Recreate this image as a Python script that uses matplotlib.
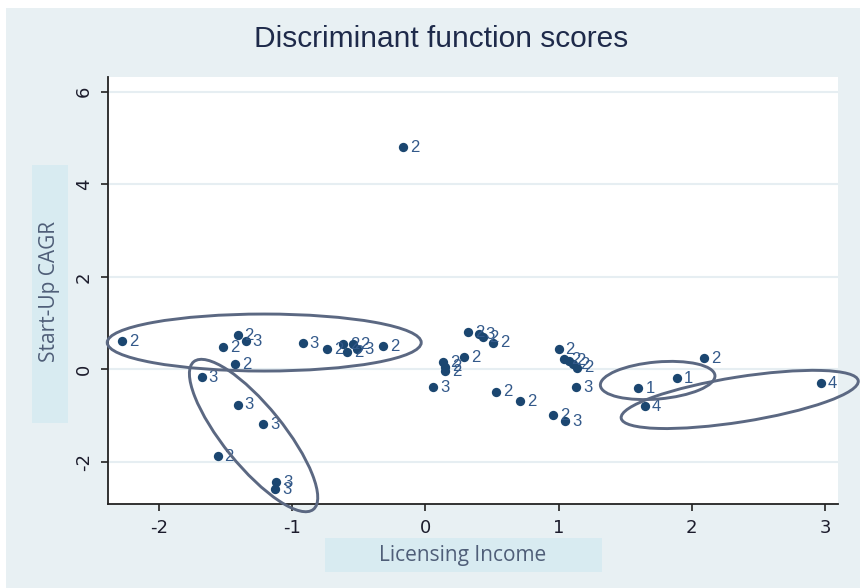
import matplotlib
matplotlib.use("Agg")
import matplotlib.pyplot as plt
from matplotlib.patches import Rectangle, Ellipse
from matplotlib.transforms import ScaledTranslation

# ---- data ----
x_vals = [-2.28, -0.17, -1.41, -1.35, -1.52, -1.43, -1.68, -0.92, -0.74, -0.62,
          -0.59, -0.54, -0.51, -0.32, -1.41, -1.22, -1.56, -1.12, -1.13, 0.32,
          0.40, 0.43, 0.51, 0.13, 0.15, 0.15, 0.29, 0.06, 0.53, 0.71,
          0.96, 1.05, 1.00, 1.04, 1.08, 1.11, 1.14, 1.13, 2.09, 1.89,
          1.60, 1.65, 2.97]
y_vals = [0.61, 4.80, 0.74, 0.61, 0.48, 0.11, -0.17, 0.56, 0.43, 0.54,
          0.37, 0.54, 0.43, 0.50, -0.76, -1.19, -1.88, -2.44, -2.59, 0.80,
          0.76, 0.69, 0.58, 0.15, 0.06, -0.04, 0.26, -0.39, -0.48, -0.69,
          -0.99, -1.12, 0.43, 0.22, 0.19, 0.11, 0.04, -0.39, 0.24, -0.19,
          -0.41, -0.80, -0.30]
groups = ["2", "2", "2", "3", "2", "2", "3", "3", "2", "2",
          "2", "2", "3", "2", "3", "3", "2", "3", "3", "2",
          "3", "2", "2", "2", "2", "2", "2", "3", "2", "2",
          "2", "3", "2", "2", "2", "2", "2", "3", "2", "1",
          "1", "4", "4"]

x_ticks = [-2, -1, 0, 1, 2, 3]
y_ticks = [-2, 0, 2, 4, 6]

# annotation ellipses: center (data), width/height (inches), angle (deg)
ellipse_centers = [(-1.21, 0.58), (-1.29, -1.43), (1.744, -0.24), (2.36, -0.65)]
ellipse_sizes = [(3.14, 0.57), (1.90, 0.60), (1.15, 0.37), (2.40, 0.45)]
ellipse_angles = [0, -51, 5, 9]

title = "Discriminant function scores"
xlabel = "Licensing Income"
ylabel = "Start-Up CAGR"

# ---- style ----
W, H = 860, 588
bg = "#e8f0f3"
boxc = "#d8ebf1"
navy = "#1b4670"
labc = "#33598a"
ellc = "#5b6882"

fig = plt.figure(figsize=(W / 100, H / 100), dpi=100, facecolor="white")
fig.add_artist(Rectangle((6 / W, 0), 1 - 6 / W, 1 - 8 / H, transform=fig.transFigure,
                         facecolor=bg, edgecolor="none", zorder=-10))
# label boxes
fig.add_artist(Rectangle((32 / W, 1 - 423 / H), 36 / W, 258 / H, transform=fig.transFigure,
                         facecolor=boxc, edgecolor="none", zorder=-5))
fig.add_artist(Rectangle((325 / W, 1 - 572 / H), 277 / W, 34 / H, transform=fig.transFigure,
                         facecolor=boxc, edgecolor="none", zorder=-5))

ax = fig.add_axes([108 / W, 1 - 504 / H, 730 / W, 427 / H])
ax.set_facecolor("white")
ax.set_xlim(-2.383, 3.098)
ax.set_ylim(-2.91, 6.32)

for sp in ["top", "right"]:
    ax.spines[sp].set_visible(False)
for sp in ["left", "bottom"]:
    ax.spines[sp].set_color("#222222")
    ax.spines[sp].set_linewidth(1.3)

ax.set_xticks(x_ticks)
ax.set_yticks(y_ticks)
ax.set_xticklabels([str(t) for t in x_ticks])
ax.set_yticklabels([str(t) for t in y_ticks], rotation=90, va="center")
ax.tick_params(axis="both", length=5, width=1.2, color="#222222",
               labelsize=13, labelcolor="#1c1c2c", pad=6)
ax.yaxis.grid(True, color="#e6eef2", linewidth=1.5)
ax.set_axisbelow(True)

ax.scatter(x_vals, y_vals, s=45, color=navy, zorder=3, linewidths=0)
for xv, yv, g in zip(x_vals, y_vals, groups):
    ax.annotate(g, (xv, yv), xytext=(5, 0), textcoords="offset points",
                va="center", ha="left", fontsize=12, color=labc,
                family="Liberation Sans", zorder=4)

for (cx, cy), (w, h), a in zip(ellipse_centers, ellipse_sizes, ellipse_angles):
    e = Ellipse((0, 0), w, h, angle=a, fill=False, edgecolor=ellc, linewidth=2.1,
                transform=fig.dpi_scale_trans + ScaledTranslation(cx, cy, ax.transData),
                clip_on=False, zorder=5)
    ax.add_artist(e)

fig.text(441 / W, 1 - 39 / H, title, ha="center", va="center", fontsize=21.5,
         color="#1e2a4a", family="Liberation Sans")
fig.text(463 / W, 1 - 555 / H, xlabel, ha="center", va="center", fontsize=15,
         color="#4f5e78", family="Open Sans")
fig.text(50 / W, 1 - 292 / H, ylabel, ha="center", va="center", fontsize=15,
         color="#4f5e78", family="Open Sans", rotation=90)

fig.savefig("out.png", dpi=100, facecolor="white")
